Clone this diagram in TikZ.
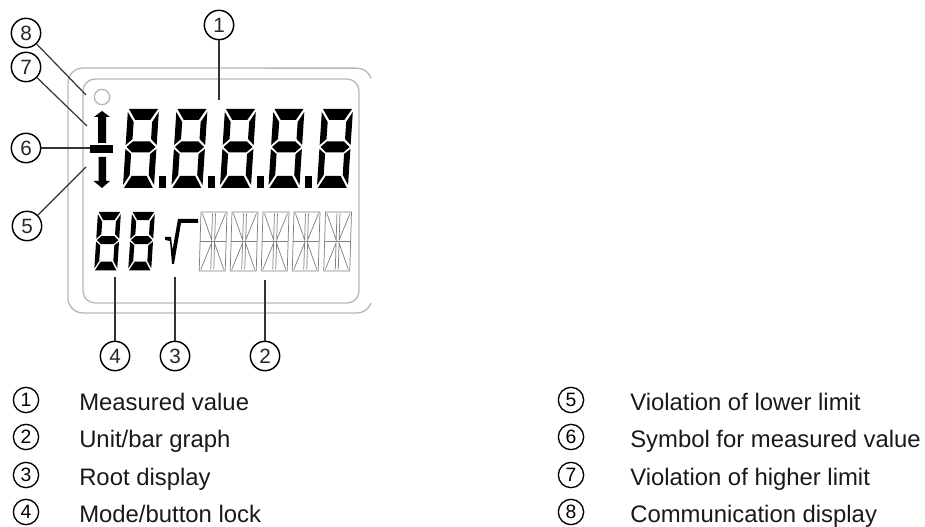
\documentclass[tikz,border=0pt]{standalone}
\usepackage{fontspec}
\setmainfont{Liberation Sans}
\newcommand{\segdigit}[3]{%
\begin{scope}[shift={(#1,#2)},xslant=0.065,scale=#3]
\fill[black] (1,0)--(30,0)--(23,11)--(8,11)--cycle;
\fill[black] (0,3)--(6.5,13)--(6.5,30)--(0,36)--cycle;
\fill[black] (31,3)--(31,36)--(25,30)--(25,13)--cycle;
\fill[black] (1,38)--(7,32.5)--(24,32.5)--(30,38)--(24,43.5)--(7,43.5)--cycle;
\fill[black] (0,40)--(6,45)--(6,66)--(0,76)--cycle;
\fill[black] (31,40)--(31,76)--(25,66)--(25,45)--cycle;
\fill[black] (1,79)--(30,79)--(23,67)--(8,67)--cycle;
\end{scope}}
\newcommand{\alnum}[2]{%
\begin{scope}[shift={(#1,#2)},xslant=0.03,draw=segc,line width=0.55pt]
\draw (0,0) rectangle (26,59);
\draw (1.5,1.5)--(11.5,28)--(11.5,1.5);
\draw (24.5,1.5)--(14.5,28)--(14.5,1.5);
\draw (1.5,57.5)--(11.5,31)--(11.5,57.5);
\draw (24.5,57.5)--(14.5,31)--(14.5,57.5);
\draw (0,29.5)--(26,29.5);
\end{scope}}
\definecolor{segc}{gray}{0.5}
\definecolor{framec}{gray}{0.72}
\definecolor{leadc}{gray}{0.2}
\tikzset{
 numc/.style={circle,draw=black,line width=1.1pt,inner sep=0pt,minimum size=22pt,font=\fontsize{15.5}{16}\selectfont,text=black!85},
 legc/.style={circle,draw=black,line width=1pt,inner sep=0pt,minimum size=19pt,font=\fontsize{14.5}{15}\selectfont},
 legt/.style={anchor=base west,inner sep=0pt,font=\fontsize{17.9}{20}\selectfont,text=black!90},
 leader/.style={draw=leadc,line width=0.9pt},
 frame/.style={draw=framec,line width=1pt},
}
\begin{document}
\begin{tikzpicture}[x=0.75pt,y=-0.75pt]
\useasboundingbox (0,0) rectangle (925,527);
% housing
\draw[frame] (371,78) arc[start angle=-20,end angle=-90,radius=15] -- (83,68) arc[start angle=-90,end angle=-180,radius=15] -- (68,298) arc[start angle=180,end angle=90,radius=15] -- (357,313) arc[start angle=90,end angle=20,radius=15];
\draw[frame,rounded corners=9pt] (83,79) rectangle (359,303);
\node[circle,draw=framec,line width=1pt,minimum size=11.5pt,inner sep=0pt] (led) at (102,97) {};
% symbols
\fill[black] (102,111)--(110,117)--(106,117)--(106,143)--(98,143)--(98,117)--(94,117)--cycle;
\fill[black] (90,145) rectangle (113,153);
\fill[black] (98.5,157)--(106,157)--(106,181)--(110,181)--(102,188)--(93.5,181)--(98.5,181)--cycle;
% digits
\segdigit{128}{109}{1}
\segdigit{176.5}{109}{1}
\segdigit{225}{109}{1}
\segdigit{273.5}{109}{1}
\segdigit{322}{109}{1}
\fill[black] (159,176) rectangle (166,188);
\fill[black] (208,176) rectangle (215,188);
\fill[black] (256.5,176) rectangle (263.5,188);
\fill[black] (305,176) rectangle (312,188);
\segdigit{98}{212}{0.74}
\segdigit{132}{212}{0.74}
% root
\fill[black] (165,237)--(171,237)--(172.5,250)--(178,219)--(198,219)--(198,223)--(181,223)--(174,264)--(172,264)--(170,241)--(165,240)--cycle;
% alphanumeric
\alnum{201}{212}
\alnum{232}{212}
\alnum{263}{212}
\alnum{294}{212}
\alnum{325.5}{212}
% callouts
\node[numc] (n1) at (219,25) {1};
\node[numc] (n2) at (265,356) {2};
\node[numc] (n3) at (175,356) {3};
\node[numc] (n4) at (115,356) {4};
\node[numc] (n5) at (27,226) {5};
\node[numc] (n6) at (26,148) {6};
\node[numc] (n7) at (26,67) {7};
\node[numc] (n8) at (26,33) {8};
\coordinate (e1) at (219,100);
\coordinate (e2) at (265,280);
\coordinate (e3) at (175,277);
\coordinate (e4) at (115,277);
\coordinate (e5) at (86,167);
\coordinate (e6) at (90,148);
\coordinate (e7) at (87,126);
\coordinate (e8) at (86,95);
\foreach \k in {1,...,8} {\draw[leader] (n\k) -- (e\k);}
% legend
\node[legc] (l1) at (26,400) {1};
\node[legc] (l2) at (26,437) {2};
\node[legc] (l3) at (26,475) {3};
\node[legc] (l4) at (26,512) {4};
\node[legc] (l5) at (571,400) {5};
\node[legc] (l6) at (571,437) {6};
\node[legc] (l7) at (571,475) {7};
\node[legc] (l8) at (571,512) {8};
\node[legt] (t1) at (79,410) {Measured value};
\node[legt] (t2) at (79,447) {Unit/bar graph};
\node[legt] (t3) at (79,485) {Root display};
\node[legt] (t4) at (79,522) {Mode/button lock};
\node[legt] (t5) at (630,410) {Violation of lower limit};
\node[legt] (t6) at (630,447) {Symbol for measured value};
\node[legt] (t7) at (630,485) {Violation of higher limit};
\node[legt] (t8) at (630,522) {Communication display};
\end{tikzpicture}
\end{document}
